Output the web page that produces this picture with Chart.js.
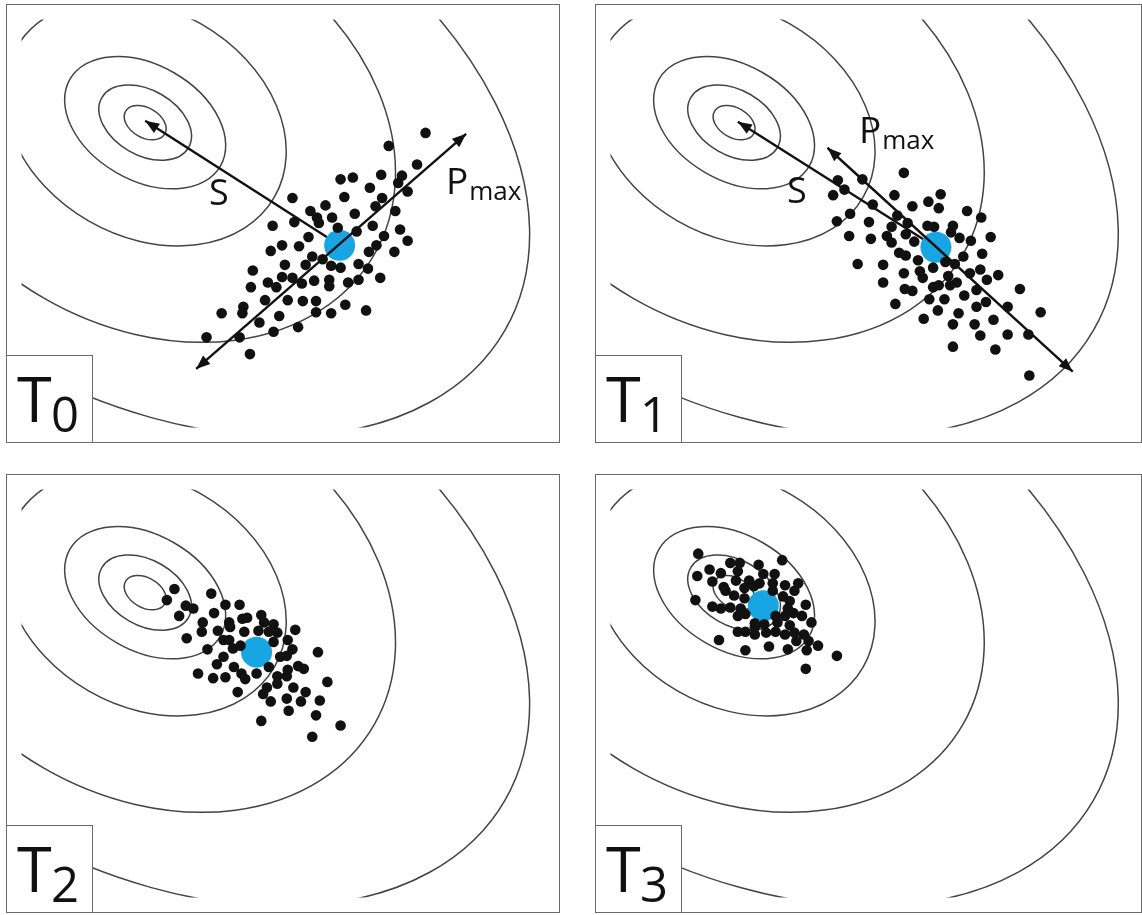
<!DOCTYPE html>
<html>
<head>
<meta charset="utf-8">
<script src="https://cdn.jsdelivr.net/npm/chart.js@4.4.1/dist/chart.umd.min.js"></script>
<style>
  body { margin: 0; background: #fff; width: 1142px; height: 915px; position: relative; overflow: hidden; font-family: "Open Sans", sans-serif; color: #111; }
  .panel { position: absolute; }
  .panel canvas { position: absolute; left: 0; top: 0; }
  .frame { position: absolute; left: 0; top: 0; right: 0; bottom: 0; border: 1.5px solid #6a6a6a; box-sizing: border-box; }
  .tag { position: absolute; left: 0; bottom: 0; width: 87px; height: 88px; border: 1.5px solid #6a6a6a; background: #fff; box-sizing: border-box; }
  .tag .t { position: absolute; left: 10px; top: 10px; font-size: 63px; line-height: 1; }
  .tag .n { position: absolute; left: 44px; top: 33px; font-size: 49px; line-height: 1; }
  .lbl { position: absolute; line-height: 1; white-space: nowrap; }
  .lbl.s { font-size: 36px; }
  .lbl.p { font-size: 37px; }
  .lbl.p sub { font-size: 26px; vertical-align: baseline; position: relative; top: 6px; margin-left: 1px; }
</style>
</head>
<body>

<div class="panel" id="p0" style="left:6px;top:4px;width:554px;height:439px">
  <canvas id="c0" width="554" height="439"></canvas>
  <div class="frame"></div>
  <div class="tag"><span class="t">T</span><span class="n">0</span></div>
</div>
<div class="panel" id="p1" style="left:595px;top:4px;width:547px;height:439px">
  <canvas id="c1" width="547" height="439"></canvas>
  <div class="frame"></div>
  <div class="tag"><span class="t">T</span><span class="n">1</span></div>
</div>
<div class="panel" id="p2" style="left:6px;top:474px;width:554px;height:439px">
  <canvas id="c2" width="554" height="439"></canvas>
  <div class="frame"></div>
  <div class="tag"><span class="t">T</span><span class="n">2</span></div>
</div>
<div class="panel" id="p3" style="left:595px;top:474px;width:547px;height:439px">
  <canvas id="c3" width="547" height="439"></canvas>
  <div class="frame"></div>
  <div class="tag"><span class="t">T</span><span class="n">3</span></div>
</div>

<div class="lbl s" style="left:209px;top:174px">S</div>
<div class="lbl p" style="left:446px;top:161px">P<sub>max</sub></div>
<div class="lbl s" style="left:787px;top:172px">S</div>
<div class="lbl p" style="left:859px;top:110px">P<sub>max</sub></div>

<script>
// objective landscape: one optimum, nested tilted contour ellipses
const optimum = [137, 115];
const ringMajor = [24, 53, 92, 158, 280, 440];
const ringMinor = [16, 35, 62, 122, 218, 292];
const ringTilt = 30; // degrees

// population at each generation
const t0Dots = [[434,126],[395,140],[425,160],[387,171],[409,172],[344,176],[357,174],[375,185],[405,180],[415,189],[293,196],[348,195],[388,196],[381,205],[328,204],[312,210],[359,213],[402,210],[319,217],[335,217],[295,222],[272,226],[321,223],[341,228],[378,226],[361,232],[407,230],[310,238],[390,237],[415,242],[282,247],[300,248],[270,253],[382,247],[374,254],[401,254],[314,259],[325,262],[307,268],[285,268],[334,269],[344,271],[363,267],[373,272],[251,274],[282,281],[293,282],[267,287],[276,292],[249,292],[303,288],[316,285],[332,284],[332,291],[352,287],[363,284],[386,282],[264,306],[288,306],[304,307],[318,307],[349,311],[241,313],[240,320],[218,320],[318,319],[334,320],[371,317],[279,323],[258,330],[299,335],[273,340],[237,346],[202,346],[248,364]];
const t1Dots = [[317,169],[356,192],[343,200],[354,207],[326,205],[307,193],[384,210],[399,217],[247,177],[273,176],[254,187],[242,193],[284,203],[260,213],[246,221],[280,222],[310,215],[304,227],[321,223],[342,226],[349,227],[369,226],[367,233],[259,237],[282,240],[299,237],[304,244],[319,235],[328,243],[376,239],[388,242],[409,238],[312,255],[319,258],[332,263],[380,259],[400,256],[268,267],[295,268],[317,277],[334,275],[348,271],[361,265],[371,267],[387,277],[398,273],[337,282],[364,280],[373,287],[405,284],[417,279],[295,287],[318,294],[326,296],[348,292],[354,290],[366,290],[381,301],[394,295],[440,294],[308,310],[344,305],[360,305],[394,313],[404,308],[427,313],[462,319],[353,317],[338,326],[375,320],[369,332],[392,332],[412,327],[398,344],[427,343],[449,343],[369,356],[414,359],[450,387]];
const t2Dots = [[168,111],[160,123],[207,116],[180,129],[188,132],[173,140],[222,128],[237,128],[210,137],[198,147],[226,147],[240,143],[245,142],[260,139],[263,147],[273,149],[197,157],[214,156],[227,152],[242,157],[257,156],[268,157],[277,158],[296,155],[181,164],[220,166],[226,166],[273,168],[288,166],[203,176],[230,175],[238,172],[293,176],[320,179],[220,184],[280,184],[287,183],[213,192],[231,195],[239,202],[243,208],[255,202],[193,202],[209,207],[222,206],[268,195],[277,205],[288,198],[299,194],[305,197],[287,205],[277,213],[294,217],[330,211],[235,222],[266,217],[262,224],[307,222],[270,232],[287,229],[302,232],[322,231],[289,242],[318,247],[260,253],[344,258],[314,270]];
const t3Dots = [[99,73],[133,83],[143,83],[188,80],[163,85],[111,90],[98,97],[123,94],[141,92],[168,95],[180,95],[114,103],[139,102],[153,102],[164,105],[178,105],[126,109],[128,113],[148,110],[158,108],[191,107],[205,105],[178,113],[201,113],[137,118],[148,121],[189,119],[196,124],[96,123],[213,128],[114,130],[123,132],[133,131],[144,132],[194,132],[200,137],[141,140],[149,138],[181,140],[191,140],[209,140],[219,147],[159,148],[169,149],[183,147],[196,150],[141,157],[149,157],[159,160],[171,158],[181,157],[191,160],[201,158],[211,160],[159,152],[121,166],[203,167],[216,167],[174,173],[194,176],[214,177],[226,172],[149,177],[246,183],[213,197]];

// population mean (blue) per generation
const means = [[343,247],[351,249],[255,179],[168,129]];

// step vectors: S towards the optimum, Pmax along the main spread
const t0S = [[343,247],[137,113]];
const t0P = [[191,380],[477,127]];
const t1S = [[351,249],[141,114]];
const t1P = [[236,142],[496,383]];

const pts = a => a.map(([x, y]) => ({ x, y }));

function arrow(ctx, x1, y1, x2, y2, both) {
  ctx.beginPath();
  ctx.moveTo(x1, y1);
  ctx.lineTo(x2, y2);
  ctx.stroke();
  head(ctx, x1, y1, x2, y2);
  if (both) head(ctx, x2, y2, x1, y1);
}
function head(ctx, x1, y1, x2, y2) {
  const a = Math.atan2(y2 - y1, x2 - x1), len = 14, w = 5.5;
  ctx.beginPath();
  ctx.moveTo(x2, y2);
  ctx.lineTo(x2 - len * Math.cos(a) + w * Math.sin(a), y2 - len * Math.sin(a) - w * Math.cos(a));
  ctx.lineTo(x2 - len * Math.cos(a) - w * Math.sin(a), y2 - len * Math.sin(a) + w * Math.cos(a));
  ctx.closePath();
  ctx.fill();
}

function drawArrows(chart, list) {
  const { ctx, scales: { x, y } } = chart;
  ctx.save();
  ctx.strokeStyle = '#111';
  ctx.fillStyle = '#111';
  ctx.lineWidth = 2.4;
  list.forEach(([a, b, both]) => {
    arrow(ctx, x.getPixelForValue(a[0]), y.getPixelForValue(a[1]),
               x.getPixelForValue(b[0]), y.getPixelForValue(b[1]), both);
  });
  ctx.restore();
}

const landscape = {
  id: 'landscape',
  beforeDatasetsDraw(chart, args, opts) {
    const { ctx, chartArea: a, scales: { x, y } } = chart;
    const cx = x.getPixelForValue(optimum[0]), cy = y.getPixelForValue(optimum[1]);
    ctx.save();
    ctx.beginPath();
    ctx.rect(a.left, a.top, a.width, a.height);
    ctx.clip();
    ctx.strokeStyle = '#444';
    ctx.lineWidth = 1.5;
    ringMajor.forEach((r, i) => {
      const rx = Math.abs(x.getPixelForValue(optimum[0] + r) - cx);
      const ry = Math.abs(y.getPixelForValue(optimum[1] + ringMinor[i]) - cy);
      ctx.beginPath();
      ctx.ellipse(cx, cy, rx, ry, ringTilt * Math.PI / 180, 0, 2 * Math.PI);
      ctx.stroke();
    });
    drawArrows(chart, opts.under || []);
    ctx.restore();
  },
  afterDatasetsDraw(chart, args, opts) {
    drawArrows(chart, opts.over || []);
  }
};

function makeChart(id, dots, mean, width, under, over, dotR) {
  new Chart(document.getElementById(id), {
    type: 'scatter',
    data: {
      datasets: [
        { data: pts(dots), pointRadius: dotR, pointBackgroundColor: '#111', pointBorderWidth: 0 },
        { data: pts([mean]), pointRadius: 15.5, pointBackgroundColor: '#17a5e3', pointBorderWidth: 0 }
      ]
    },
    options: {
      responsive: false,
      animation: false,
      devicePixelRatio: 1,
      events: [],
      layout: { padding: 0 },
      scales: {
        x: { type: 'linear', display: false, min: 6, max: 6 + width },
        y: { type: 'linear', display: false, min: 4, max: 443, reverse: true }
      },
      plugins: {
        legend: { display: false },
        tooltip: { enabled: false },
        landscape: { under, over }
      }
    },
    plugins: [landscape]
  });
}

makeChart('c0', t0Dots, means[0], 554, [[t0S[0], t0S[1], false]], [[t0P[0], t0P[1], true]], 5.3);
makeChart('c1', t1Dots, means[1], 547, [[t1S[0], t1S[1], false]], [[t1P[0], t1P[1], true]], 5.3);
makeChart('c2', t2Dots, means[2], 554, [], [], 5.3);
makeChart('c3', t3Dots, means[3], 547, [], [], 5.3);
</script>
</body>
</html>
